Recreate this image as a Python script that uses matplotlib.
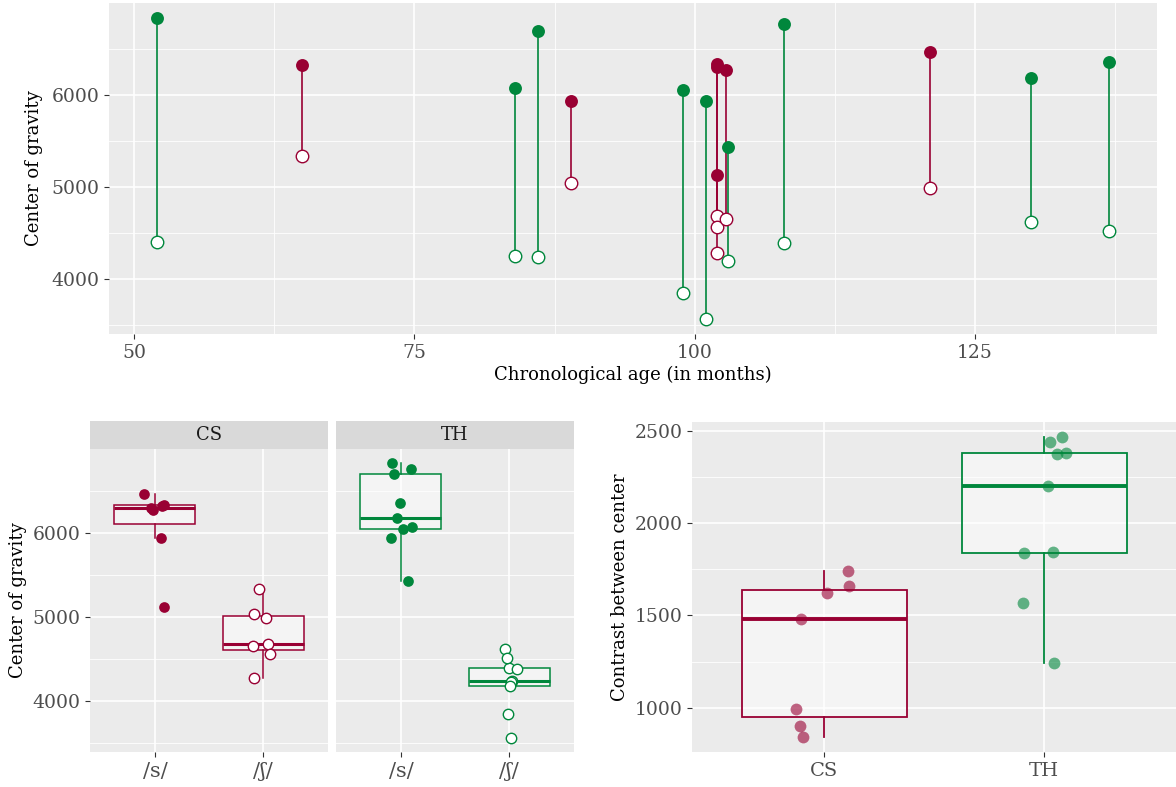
import matplotlib
matplotlib.use('Agg')
import matplotlib.pyplot as plt
import numpy as np

plt.rcParams['font.family'] = ['DejaVu Serif']

# --- data ---
cs_age = [65, 89, 102, 102, 102, 102.8, 121]
cs_s = [6326, 5938, 6340, 6305, 5124, 6272, 6471]
cs_sh = [5333, 5036, 4680, 4565, 4283, 4652, 4989]

th_age = [52, 84, 86, 99, 101, 103, 108, 130, 137]
th_s = [6837, 6079, 6699, 6050, 5938, 5430, 6767, 6185, 6362]
th_sh = [4395, 4243, 4232, 3848, 3561, 4188, 4387, 4620, 4517]

groups = ['CS', 'TH']
sounds = ['/s/', '/ʃ/']

# jitter offsets as seen in the picture (one per speaker)
cs_jit_s = [0.07, 0.06, 0.08, -0.04, 0.085, -0.02, -0.10]
cs_jit_sh = [-0.035, -0.083, 0.05, 0.065, -0.083, -0.09, 0.028]
th_jit_s = [-0.086, 0.10, -0.065, 0.02, -0.09, 0.07, 0.09, -0.04, -0.01]
th_jit_sh = [0.0, 0.03, 0.02, -0.006, 0.02, 0.01, 0.077, -0.04, -0.02]
cs_jit_c = [-0.126, -0.109, 0.112, 0.11, -0.097, 0.015, -0.105]
th_jit_c = [0.027, -0.09, 0.083, 0.019, 0.058, 0.044, 0.10, -0.094, 0.039]

RED = '#990033'
GREEN = '#00873C'
BG = '#EBEBEB'
W, H = 1176, 787

fig = plt.figure(figsize=(W / 100, H / 100), dpi=100)


def px_axes(left, top, right, bottom):
    return fig.add_axes([left / W, 1 - bottom / H, (right - left) / W, (bottom - top) / H])


def style(ax):
    ax.set_facecolor(BG)
    for s in ax.spines.values():
        s.set_visible(False)
    ax.grid(True, which='major', color='white', linewidth=1.2)
    ax.grid(True, which='minor', color='white', linewidth=0.6)
    ax.set_axisbelow(True)
    ax.tick_params(which='major', length=3.5, width=0.8, color='#333333',
                   labelcolor='#4D4D4D', labelsize=13.5)
    ax.tick_params(which='minor', length=0)


def box(ax, data, pos, color, lw=1.1, mlw=2.2, width=0.75):
    # ggplot-like box: no caps, no outliers, 1.5 IQR whiskers
    ax.boxplot(data, positions=pos, widths=width, patch_artist=True,
               showfliers=False, showcaps=False, whis=1.5,
               boxprops=dict(facecolor=(1, 1, 1, 0.45), edgecolor=color, linewidth=lw),
               whiskerprops=dict(color=color, linewidth=lw),
               medianprops=dict(color=color, linewidth=mlw), zorder=2)


# ---------- top panel ----------
ax = px_axes(109, 3, 1157, 334)
style(ax)
for age, s, sh, col in [(cs_age, cs_s, cs_sh, RED), (th_age, th_s, th_sh, GREEN)]:
    ax.vlines(age, sh, s, color=col, linewidth=1.2, zorder=2)
for age, s, sh, col in [(cs_age, cs_s, cs_sh, RED), (th_age, th_s, th_sh, GREEN)]:
    ax.plot(age, sh, 'o', ms=9, mfc='white', mec=col, mew=1.0, ls='none', zorder=3)
    ax.plot(age, s, 'o', ms=9.3, mfc=col, mec=col, mew=0, ls='none', zorder=4)
all_cog = cs_s + cs_sh + th_s + th_sh
all_age = cs_age + th_age
r = max(all_cog) - min(all_cog)
ax.set_ylim(min(all_cog) - 0.05 * r, max(all_cog) + 0.05 * r)
r = max(all_age) - min(all_age)
ax.set_xlim(min(all_age) - 0.05 * r, max(all_age) + 0.05 * r)
ax.set_xticks([50, 75, 100, 125])
ax.set_xticks([62.5, 87.5, 112.5, 137.5], minor=True)
ax.set_yticks([4000, 5000, 6000])
ax.set_yticks([3500, 4500, 5500, 6500], minor=True)
ax.set_xlabel('Chronological age (in months)', fontsize=13, labelpad=3)
ax.set_ylabel('Center of gravity', fontsize=13, labelpad=6)

# ---------- bottom left facets ----------
ylo, yhi = ax.get_ylim()
panels = [(90, 328, 'CS', cs_s, cs_sh, cs_jit_s, cs_jit_sh, RED),
          (336, 574, 'TH', th_s, th_sh, th_jit_s, th_jit_sh, GREEN)]
for i, (l, rgt, name, s, sh, js, jsh, col) in enumerate(panels):
    a = px_axes(l, 449, rgt, 752)
    style(a)
    box(a, [s, sh], [1, 2], col)
    a.plot(1 + np.array(js), s, 'o', ms=7.7, mfc=col, mec=col, mew=0, ls='none', zorder=4)
    a.plot(2 + np.array(jsh), sh, 'o', ms=7.5, mfc='white', mec=col, mew=1.0, ls='none', zorder=4)
    a.set_xlim(0.4, 2.6)
    a.set_ylim(ylo, yhi)
    a.set_xticks([1, 2])
    a.set_xticklabels(sounds, fontsize=15)
    a.set_yticks([4000, 5000, 6000])
    a.set_yticks([3500, 4500, 5500, 6500], minor=True)
    if i == 0:
        a.set_ylabel('Center of gravity', fontsize=13, labelpad=4)
    else:
        a.tick_params(axis='y', which='both', left=False, labelleft=False)
    # facet strip
    st = px_axes(l, 421, rgt, 449)
    st.set_facecolor('#D9D9D9')
    st.set_xticks([])
    st.set_yticks([])
    for sp in st.spines.values():
        sp.set_visible(False)
    st.text(0.5, 0.5, name, ha='center', va='center', fontsize=13, color='#1A1A1A',
            transform=st.transAxes)

# ---------- bottom right: contrast ----------
cs_c = [a - b for a, b in zip(cs_s, cs_sh)]
th_c = [a - b for a, b in zip(th_s, th_sh)]
ac = px_axes(692, 422, 1176, 752)
style(ac)
box(ac, [cs_c], [1], RED, lw=1.3, mlw=2.8)
box(ac, [th_c], [2], GREEN, lw=1.3, mlw=2.8)
ac.plot(1 + np.array(cs_jit_c), cs_c, 'o', ms=8.5, color=RED, alpha=0.6, mew=0, ls='none', zorder=4)
ac.plot(2 + np.array(th_jit_c), th_c, 'o', ms=8.5, color=GREEN, alpha=0.6, mew=0, ls='none', zorder=4)
allc = cs_c + th_c
r = max(allc) - min(allc)
ac.set_ylim(min(allc) - 0.05 * r, max(allc) + 0.05 * r)
ac.set_xlim(0.4, 2.6)
ac.set_xticks([1, 2])
ac.set_xticklabels(groups, fontsize=14)
ac.set_yticks([1000, 1500, 2000, 2500])
ac.set_yticks([1250, 1750, 2250], minor=True)
ac.set_ylabel('Contrast between center', fontsize=13, labelpad=4)

fig.savefig('out.png', dpi=100)
